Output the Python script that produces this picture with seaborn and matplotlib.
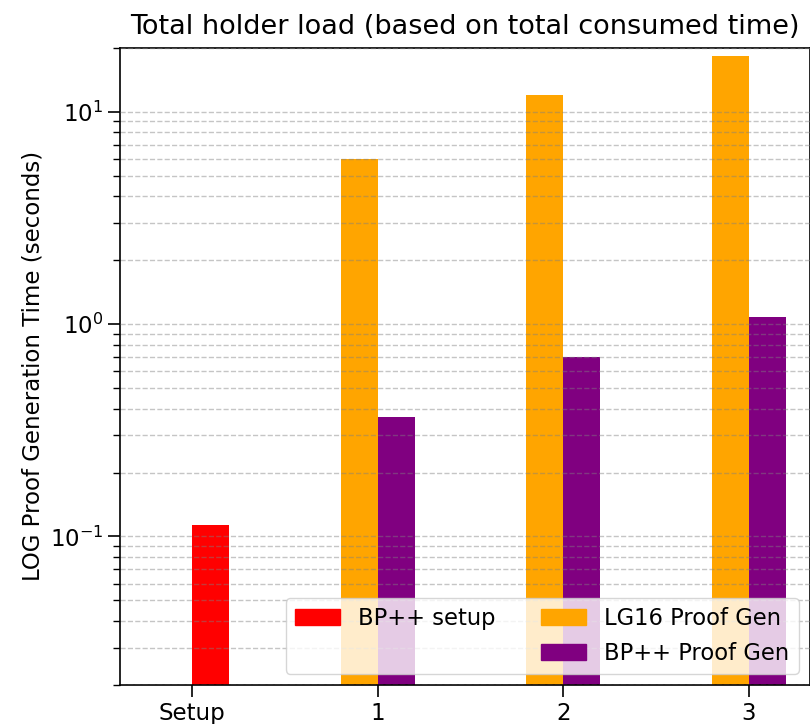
import matplotlib
matplotlib.use("Agg")
import matplotlib.pyplot as plt
from matplotlib.patches import Patch
import pandas as pd
import seaborn as sns

# Group labels and measured times (seconds)
groups = ["Setup", "1", "2", "3"]
setup_time = [0.113]
lg16_proof = [6.0, 12.0, 18.2]
bpp_proof = [0.365, 0.70, 1.08]

legend_labels = ["BP++ setup", "LG16 Proof Gen", "BP++ Proof Gen"]
colors = {"setup": "red", "lg16": "orange", "bpp": "purple"}

# Long-form table: left slot = LG16, right slot = BP++ (setup sits in the right slot)
rows = [("Setup", "right", setup_time[0])]
for g, lg, bp in zip(groups[1:], lg16_proof, bpp_proof):
    rows.append((g, "left", lg))
    rows.append((g, "right", bp))
df = pd.DataFrame(rows, columns=["group", "slot", "time"])

fig = plt.figure(figsize=(8.1, 7.24), dpi=100)
ax = fig.add_axes([0.148, 0.054, 0.852, 0.880])

sns.barplot(
    data=df, x="group", y="time", hue="slot",
    order=groups, hue_order=["left", "right"],
    palette={"left": colors["lg16"], "right": colors["bpp"]},
    width=0.4, gap=0, errorbar=None, saturation=1,
    legend=False, ax=ax,
)
ax.set_yscale("log")

# The setup bar is drawn in red
for p in ax.patches:
    cx = p.get_x() + p.get_width() / 2
    if abs(cx - 0.1) < 0.05:
        p.set_facecolor(colors["setup"])

ax.set_ylim(0.02, 20)
ax.set_xlim(-0.39, 3.33)
ax.set_xlabel("")
ax.set_ylabel("LOG Proof Generation Time (seconds)", fontsize=16.5)
ax.set_title("Total holder load (based on total consumed time)", fontsize=19.5, pad=10)

ax.tick_params(axis="both", which="major", labelsize=16.5, length=8.5, width=1.2)
ax.tick_params(axis="y", which="minor", length=5, width=1.0)
for s in ax.spines.values():
    s.set_linewidth(1.2)

ax.grid(True, which="both", axis="y", linestyle="--", color="gray", alpha=0.45, linewidth=1.0)
ax.set_axisbelow(False)

handles = [
    Patch(color=colors["setup"]),
    Patch(color="none"),
    Patch(color=colors["lg16"]),
    Patch(color=colors["bpp"]),
]
labels = [legend_labels[0], "", legend_labels[1], legend_labels[2]]
ax.legend(handles, labels, ncol=2, loc="lower right", fontsize=16.3)

fig.savefig("out.png", dpi=100)
